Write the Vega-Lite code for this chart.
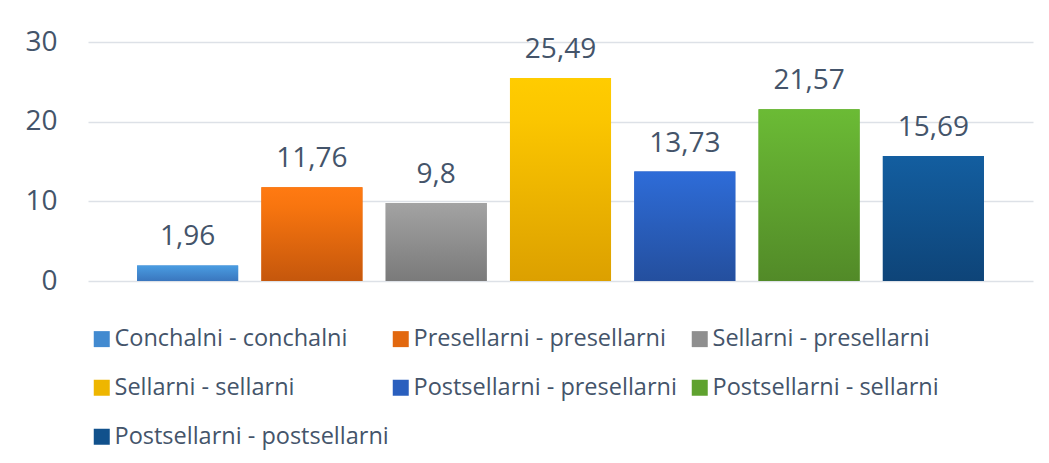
{
  "$schema": "https://vega.github.io/schema/vega-lite/v6.json",
  "width": 945,
  "height": 239,
  "autosize": {"type": "none"},
  "padding": {"left": 88, "top": 42, "right": 16, "bottom": 182},
  "background": "white",
  "config": {
    "view": {"stroke": null},
    "font": "Open Sans"
  },
  "data": {
    "values": [
      {"kategorija": "Conchalni - conchalni", "vrijednost": 1.96, "oznaka": "1,96"},
      {"kategorija": "Presellarni - presellarni", "vrijednost": 11.76, "oznaka": "11,76"},
      {"kategorija": "Sellarni - presellarni", "vrijednost": 9.8, "oznaka": "9,8"},
      {"kategorija": "Sellarni - sellarni", "vrijednost": 25.49, "oznaka": "25,49"},
      {"kategorija": "Postsellarni - presellarni", "vrijednost": 13.73, "oznaka": "13,73"},
      {"kategorija": "Postsellarni - sellarni", "vrijednost": 21.57, "oznaka": "21,57"},
      {"kategorija": "Postsellarni - postsellarni", "vrijednost": 15.69, "oznaka": "15,69"}
    ]
  },
  "encoding": {
    "x": {
      "field": "kategorija",
      "type": "nominal",
      "sort": [
        "Conchalni - conchalni",
        "Presellarni - presellarni",
        "Sellarni - presellarni",
        "Sellarni - sellarni",
        "Postsellarni - presellarni",
        "Postsellarni - sellarni",
        "Postsellarni - postsellarni"
      ],
      "axis": null,
      "scale": {"paddingInner": 0.187, "paddingOuter": 0.395}
    },
    "y": {
      "field": "vrijednost",
      "type": "quantitative",
      "scale": {"domain": [0, 30], "nice": false},
      "axis": {
        "values": [0, 10, 20, 30],
        "title": null,
        "domain": false,
        "ticks": false,
        "labelFontSize": 28,
        "labelColor": "#44546A",
        "labelPadding": 31,
        "labelFont": "Open Sans",
        "gridColor": "#DDE1E7",
        "gridWidth": 1.5
      }
    }
  },
  "layer": [
    {
      "mark": {"type": "bar"},
      "encoding": {
        "color": {
          "field": "kategorija",
          "type": "nominal",
          "sort": null,
          "scale": {
            "domain": [
              "Conchalni - conchalni",
              "Presellarni - presellarni",
              "Sellarni - presellarni",
              "Sellarni - sellarni",
              "Postsellarni - presellarni",
              "Postsellarni - sellarni",
              "Postsellarni - postsellarni"
            ],
            "range": ["#428AD0", "#E2680F", "#8F8F8F", "#EEB600", "#2A5FBE", "#5FA22F", "#11518C"]
          },
          "legend": {
            "title": null,
            "orient": "none",
            "legendX": 2,
            "legendY": 285,
            "direction": "horizontal",
            "columns": 3,
            "gridAlign": "all",
            "columnPadding": 0,
            "rowPadding": 24,
            "symbolType": "square",
            "symbolSize": 256,
            "symbolStrokeWidth": 0,
            "labelFontSize": 23.5,
            "labelFont": "Open Sans",
            "labelColor": "#44546A",
            "labelOffset": 1,
            "labelLimit": 400
          }
        }
      }
    },
    {
      "transform": [{"filter": "datum.kategorija === 'Conchalni - conchalni'"}],
      "mark": {"type": "bar", "color": {"gradient": "linear", "x1": 0, "y1": 0, "x2": 0, "y2": 1, "stops": [{"offset": 0, "color": "#4A9DE2"}, {"offset": 1, "color": "#3A76BE"}]}},
      "encoding": {}
    },
    {
      "transform": [{"filter": "datum.kategorija === 'Presellarni - presellarni'"}],
      "mark": {"type": "bar", "color": {"gradient": "linear", "x1": 0, "y1": 0, "x2": 0, "y2": 1, "stops": [{"offset": 0, "color": "#FF7A12"}, {"offset": 0.2, "color": "#F8750F"}, {"offset": 1, "color": "#C5570C"}]}},
      "encoding": {}
    },
    {
      "transform": [{"filter": "datum.kategorija === 'Sellarni - presellarni'"}],
      "mark": {"type": "bar", "color": {"gradient": "linear", "x1": 0, "y1": 0, "x2": 0, "y2": 1, "stops": [{"offset": 0, "color": "#A3A3A3"}, {"offset": 1, "color": "#7A7A7A"}]}},
      "encoding": {}
    },
    {
      "transform": [{"filter": "datum.kategorija === 'Sellarni - sellarni'"}],
      "mark": {"type": "bar", "color": {"gradient": "linear", "x1": 0, "y1": 0, "x2": 0, "y2": 1, "stops": [{"offset": 0, "color": "#FFCC00"}, {"offset": 0.2, "color": "#FBC600"}, {"offset": 1, "color": "#DCA000"}]}},
      "encoding": {}
    },
    {
      "transform": [{"filter": "datum.kategorija === 'Postsellarni - presellarni'"}],
      "mark": {"type": "bar", "color": {"gradient": "linear", "x1": 0, "y1": 0, "x2": 0, "y2": 1, "stops": [{"offset": 0, "color": "#2E6CD8"}, {"offset": 1, "color": "#244F9E"}]}},
      "encoding": {}
    },
    {
      "transform": [{"filter": "datum.kategorija === 'Postsellarni - sellarni'"}],
      "mark": {"type": "bar", "color": {"gradient": "linear", "x1": 0, "y1": 0, "x2": 0, "y2": 1, "stops": [{"offset": 0, "color": "#6BBB35"}, {"offset": 1, "color": "#528A28"}]}},
      "encoding": {}
    },
    {
      "transform": [{"filter": "datum.kategorija === 'Postsellarni - postsellarni'"}],
      "mark": {"type": "bar", "color": {"gradient": "linear", "x1": 0, "y1": 0, "x2": 0, "y2": 1, "stops": [{"offset": 0, "color": "#135EA0"}, {"offset": 1, "color": "#0E4478"}]}},
      "encoding": {}
    },
    {
      "mark": {"type": "text", "baseline": "alphabetic", "dy": -20, "fontSize": 28, "color": "#44546A", "font": "Open Sans"},
      "encoding": {
        "text": {"field": "oznaka", "type": "nominal"}
      }
    }
  ]
}
